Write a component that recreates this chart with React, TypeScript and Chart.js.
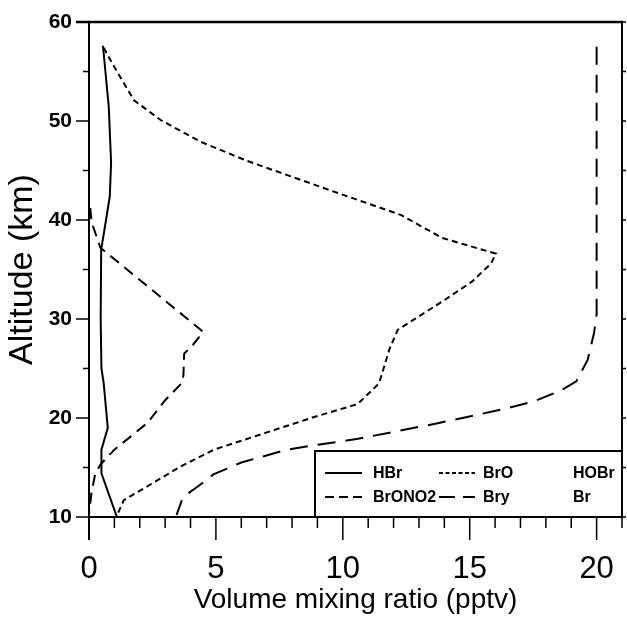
import React, { useEffect, useRef } from "react";
import { Chart, registerables } from "chart.js";

Chart.register(...registerables);

const FONT = '"Liberation Sans", Arial, Helvetica, sans-serif';

// Axis ticks
const xTickValues = [0, 5, 10, 15, 20];
const yTickValues = [10, 20, 30, 40, 50, 60];
const xTitle = "Volume mixing ratio (pptv)";
const yTitle = "Altitude (km)";

// HBr (solid)
const hbrVmr = [0.55, 0.78, 0.87, 0.82, 0.69, 0.48, 0.46, 0.49, 0.58, 0.74, 0.49, 0.49, 1.1];
const hbrAlt = [57.6, 51.4, 45.8, 42.4, 40.3, 37.0, 30.0, 25.0, 23.5, 19.0, 16.8, 14.4, 10.0];

// BrONO2 (dashed)
const brono2Vmr = [0.05, 0.1, 0.45, 4.5, 4.1, 3.75, 3.72, 3.65, 3.0, 2.3, 1.0, 0.45, 0.25, 0.1, 0.0];
const brono2Alt = [41.2, 39.8, 37.2, 28.7, 27.4, 26.5, 24.3, 23.5, 21.8, 19.5, 16.8, 15.3, 14.4, 12.5, 10.3];

// BrO (short dashes)
const broVmr = [0.58, 0.92, 1.77, 2.82, 4.4, 6.2, 9.5, 12.3, 13.9, 16.03, 15.84, 15.1, 14.0, 12.16, 11.83, 11.43, 10.58, 8.87, 4.92, 3.61, 2.3, 1.37, 1.11, 1.1];
const broAlt = [57.4, 55.8, 52.1, 50.1, 47.9, 46.0, 43.0, 40.5, 38.2, 36.6, 35.6, 33.8, 31.9, 28.9, 26.9, 23.5, 21.4, 20.1, 16.8, 15.1, 13.1, 11.7, 10.2, 10.0];

// Bry (long dashes)
const bryVmr = [20.0, 20.0, 19.9, 19.65, 19.2, 18.6, 17.55, 16.5, 14.9, 13.6, 12.0, 10.6, 8.5, 7.8, 6.0, 4.9, 4.3, 3.7, 3.45];
const bryAlt = [57.5, 30.5, 28.6, 25.9, 23.7, 22.8, 21.7, 21.0, 20.1, 19.4, 18.6, 17.9, 17.1, 16.8, 15.5, 14.3, 13.1, 12.0, 10.2];

const seriesNames = ["HBr", "BrONO2", "BrO", "Bry"];
const seriesDash: number[][] = [[], [11, 7], [6, 4], [18, 10]];
const legendDash: number[][] = [[], [9, 5], [4, 2.5], [16, 8]];

// Legend layout: 3 columns x 2 rows; HOBr and Br have no line sample
const legendRow1 = ["HBr", "BrO", "HOBr"];
const legendRow2 = ["BrONO2", "Bry", "Br"];

const toPoints = (xs: number[], ys: number[]) => xs.map((v, i) => ({ x: v, y: ys[i] }));

const framePlugin = {
  id: "frame",
  afterDraw(chart: any) {
    const { ctx, chartArea: a, scales } = chart;
    const xs = scales.x;
    const ys = scales.y;
    ctx.save();
    ctx.strokeStyle = "#000";
    ctx.setLineDash([]);

    // axes / frame
    ctx.lineWidth = 2;
    ctx.beginPath();
    ctx.moveTo(a.left, a.top);
    ctx.lineTo(a.left, a.bottom + 23);
    ctx.moveTo(a.left, a.bottom);
    ctx.lineTo(a.right, a.bottom);
    ctx.moveTo(a.right, a.top);
    ctx.lineTo(a.right, a.bottom);
    ctx.stroke();
    ctx.lineWidth = 2.5;
    ctx.beginPath();
    ctx.moveTo(a.left - 13, a.top);
    ctx.lineTo(a.right + 1, a.top);
    ctx.stroke();

    // y ticks
    ctx.lineWidth = 1.5;
    ctx.beginPath();
    for (let v = 10; v <= 60; v += 5) {
      const py = ys.getPixelForValue(v);
      const major = v % 10 === 0;
      ctx.moveTo(a.left - (major ? 13 : 6), py);
      ctx.lineTo(a.left, py);
      ctx.moveTo(a.right, py);
      ctx.lineTo(a.right + 4, py);
    }
    // x ticks
    for (let v = 1; v <= 21; v++) {
      const px = xs.getPixelForValue(v);
      const major = v % 5 === 0;
      ctx.moveTo(px, a.bottom);
      ctx.lineTo(px, a.bottom + (major ? 23 : 11));
    }
    ctx.stroke();

    // legend box
    const bl = a.right - 307;
    const bt = a.bottom - 66;
    ctx.fillStyle = "#fff";
    ctx.fillRect(bl, bt, a.right - bl, a.bottom - bt);
    ctx.lineWidth = 2;
    ctx.strokeRect(bl, bt, a.right - bl, a.bottom - bt);

    const rowY = [bt + 22, bt + 46];
    const colSample = [[bl + 10, bl + 47], [bl + 124, bl + 160], null];
    const colText = [bl + 58, bl + 168, bl + 258];
    const rows = [legendRow1, legendRow2];
    ctx.font = "bold 16px " + FONT;
    ctx.fillStyle = "#000";
    ctx.textBaseline = "middle";
    ctx.textAlign = "left";
    rows.forEach((row, r) => {
      row.forEach((name, c) => {
        const idx = seriesNames.indexOf(name);
        const s = colSample[c];
        if (idx >= 0 && s) {
          ctx.lineWidth = 2;
          ctx.setLineDash(legendDash[idx]);
          ctx.beginPath();
          ctx.moveTo(s[0], rowY[r]);
          ctx.lineTo(s[1], rowY[r]);
          ctx.stroke();
          ctx.setLineDash([]);
        }
        ctx.fillText(name, colText[c], rowY[r] + 1);
      });
    });
    ctx.restore();
  },
};

export default function App() {
  const ref = useRef<HTMLCanvasElement | null>(null);

  useEffect(() => {
    if (!ref.current) return;
    const allX = [hbrVmr, brono2Vmr, broVmr, bryVmr];
    const allY = [hbrAlt, brono2Alt, broAlt, bryAlt];
    const chart = new Chart(ref.current, {
      type: "scatter",
      data: {
        datasets: seriesNames.map((name, i) => ({
          label: name,
          data: toPoints(allX[i], allY[i]),
          showLine: true,
          borderColor: "#000",
          backgroundColor: "#000",
          borderWidth: 2,
          borderDash: seriesDash[i],
          pointRadius: 0,
          pointHoverRadius: 0,
          fill: false,
          tension: 0,
        })),
      },
      options: {
        animation: false,
        responsive: false,
        devicePixelRatio: 1,
        layout: { padding: { top: 22, right: 5, left: 0, bottom: 0 } },
        plugins: {
          legend: { display: false },
          tooltip: { enabled: false },
        },
        scales: {
          x: {
            type: "linear",
            min: 0,
            max: 21,
            afterBuildTicks: (s: any) => {
              s.ticks = xTickValues.map((v) => ({ value: v }));
            },
            afterFit: (s: any) => {
              s.height = 117;
              s.paddingLeft = 0;
              s.paddingRight = 0;
              s.paddingTop = 0;
              s.paddingBottom = 0;
            },
            grid: { display: false, drawTicks: false },
            border: { display: false },
            ticks: {
              color: "#000",
              font: { family: FONT, size: 31 },
              padding: 34,
              maxRotation: 0,
              autoSkip: false,
            },
            title: {
              display: true,
              text: xTitle,
              color: "#000",
              font: { family: FONT, size: 28 },
              padding: { top: 0, bottom: 17 },
            },
          },
          y: {
            type: "linear",
            min: 10,
            max: 60,
            afterBuildTicks: (s: any) => {
              s.ticks = yTickValues.map((v) => ({ value: v }));
            },
            afterFit: (s: any) => {
              s.width = 89;
              s.paddingLeft = 0;
              s.paddingRight = 0;
              s.paddingTop = 0;
              s.paddingBottom = 0;
            },
            grid: { display: false, drawTicks: false },
            border: { display: false },
            ticks: {
              color: "#000",
              font: { family: FONT, size: 21, weight: "bold" },
              padding: 17,
              autoSkip: false,
            },
            title: {
              display: true,
              text: yTitle,
              color: "#000",
              font: { family: FONT, size: 34 },
              padding: { top: 2, bottom: 0 },
            },
          },
        },
      },
      plugins: [framePlugin],
    });
    return () => chart.destroy();
  }, []);

  return (
    <div style={{ position: "fixed", left: 0, top: 0, width: 627, height: 634, background: "#fff" }}>
      <canvas ref={ref} width={627} height={634} style={{ display: "block" }} />
    </div>
  );
}
